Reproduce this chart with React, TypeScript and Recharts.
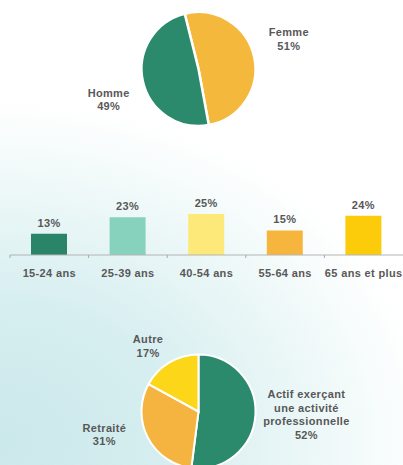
import { PieChart, Pie, Cell, BarChart, Bar, XAxis, YAxis, LabelList } from "recharts"

const sexNames = ["Femme", "Homme"]
const sexValues = [51, 49]
const sexColors = ["#f4b93c", "#2b8a6b"]

const ageNames = ["15-24 ans", "25-39 ans", "40-54 ans", "55-64 ans", "65 ans et plus"]
const ageValues = [13, 23, 25, 15, 24]
const ageColors = ["#2a8468", "#86d2bd", "#fce97a", "#f6b63e", "#fccb0a"]

const statusNames = ["Actif exerçant\nune activité\nprofessionnelle", "Retraité", "Autre"]
const statusValues = [52, 31, 17]
const statusColors = ["#2b8a6b", "#f5b43f", "#fcd619"]

const TEXT = "#585858"
const FONT = "'Liberation Sans', Arial, sans-serif"
const FS = 11
const LS = 0.35

// where each slice label sits: polar angle (deg) and distance from the pie centre
const labelSpots: Record<string, [number, number]> = {
  Femme: [18, 95],
  Homme: [199, 95],
  "Actif exerçant\nune activité\nprofessionnelle": [-2, 108],
  Retraité: [194, 97],
  Autre: [128, 82],
}

const sexData = sexNames.map((name, i) => ({ name, value: sexValues[i], color: sexColors[i] }))
const ageData = ageNames.map((name, i) => ({ name, value: ageValues[i], color: ageColors[i] }))
const statusData = statusNames.map((name, i) => ({ name, value: statusValues[i], color: statusColors[i] }))

const RAD = Math.PI / 180
const LINE = 13.6

function renderPieLabel(props: any) {
  const { cx, cy, midAngle, outerRadius, payload, value } = props
  const lines: string[] = [...String(payload.name).split("\n"), `${value}%`]
  const [ang, dist] = labelSpots[payload.name] ?? [midAngle, outerRadius + 35]
  const x = cx + dist * Math.cos(ang * RAD)
  const y = cy - dist * Math.sin(ang * RAD)
  const top = y - (lines.length * LINE) / 2 + LINE * 0.75
  return (
    <text
      x={x}
      y={top}
      textAnchor="middle"
      fill={TEXT}
      fontSize={FS}
      fontWeight="bold"
      fontFamily={FONT}
      letterSpacing={LS}
    >
      {lines.map((l, i) => (
        <tspan key={i} x={x} y={top + i * LINE}>
          {l}
        </tspan>
      ))}
    </text>
  )
}

function AgeTick(props: any) {
  const { x, y, payload } = props
  const half = payload.offset ?? 39.3
  return (
    <g>
      <line x1={x - half} y1={y - 8} x2={x - half} y2={y - 5} stroke="#a8a8a8" />
      <text
        x={x}
        y={y + 14}
        textAnchor="middle"
        fill={TEXT}
        fontSize={FS}
        fontWeight="bold"
        fontFamily={FONT}
        letterSpacing={LS}
      >
        {payload.value}
      </text>
    </g>
  )
}

const noMargin = { top: 0, right: 0, bottom: 0, left: 0 }

export default function App() {
  return (
    <div
      style={{
        position: "absolute",
        left: 0,
        top: 0,
        width: 403,
        height: 465,
        overflow: "hidden",
        fontFamily: FONT,
        background:
          "radial-gradient(ellipse 430px 340px at 0% 95%, #cbe8eb 0%, #d6eef0 40%, #eef8f8 75%, #ffffff 100%)",
      }}
    >
      <div style={{ position: "absolute", left: 0, top: 0 }}>
        <PieChart width={403} height={140} margin={noMargin}>
          <Pie
            data={sexData}
            dataKey="value"
            cx={198.5}
            cy={69}
            outerRadius={57}
            startAngle={104}
            endAngle={-256}
            stroke="#ffffff"
            strokeWidth={2.5}
            label={renderPieLabel}
            labelLine={false}
            isAnimationActive={false}
          >
            {sexData.map((d, i) => (
              <Cell key={i} fill={d.color} />
            ))}
          </Pie>
        </PieChart>
      </div>

      <div style={{ position: "absolute", left: 0, top: 185 }}>
        <BarChart width={403} height={100} data={ageData} margin={{ top: 10, right: 0, left: 10, bottom: 0 }}>
          <YAxis hide domain={[0, 36.6]} />
          <XAxis
            dataKey="name"
            height={30}
            axisLine={{ stroke: "#b4b4b4" }}
            tickLine={false}
            tick={<AgeTick />}
            interval={0}
          />
          <Bar dataKey="value" barSize={36} isAnimationActive={false}>
            {ageData.map((d, i) => (
              <Cell key={i} fill={d.color} />
            ))}
            <LabelList
              dataKey="value"
              position="top"
              offset={7}
              formatter={(v: any) => `${v}%`}
              fill={TEXT}
              fontSize={FS}
              fontWeight="bold"
              fontFamily={FONT}
              letterSpacing={LS}
            />
          </Bar>
        </BarChart>
      </div>

      <div style={{ position: "absolute", left: 0, top: 315 }}>
        <PieChart width={403} height={200} margin={noMargin}>
          <Pie
            data={statusData}
            dataKey="value"
            cx={198.5}
            cy={96.5}
            outerRadius={57}
            startAngle={90}
            endAngle={-270}
            stroke="#ffffff"
            strokeWidth={2}
            label={renderPieLabel}
            labelLine={false}
            isAnimationActive={false}
          >
            {statusData.map((d, i) => (
              <Cell key={i} fill={d.color} />
            ))}
          </Pie>
        </PieChart>
      </div>
    </div>
  )
}
